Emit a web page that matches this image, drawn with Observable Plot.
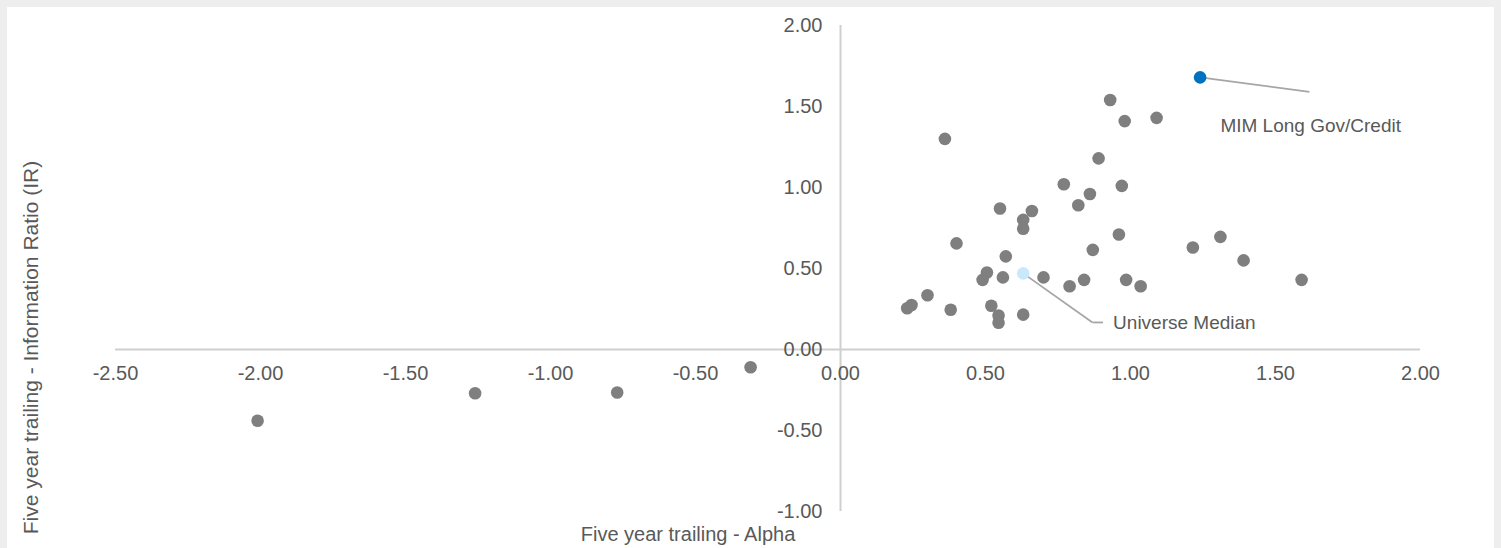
<!DOCTYPE html>
<html>
<head>
<meta charset="utf-8">
<script src="https://cdn.jsdelivr.net/npm/d3@7"></script>
<script src="https://cdn.jsdelivr.net/npm/@observablehq/plot@0.6"></script>
<style>
  html, body { margin: 0; padding: 0; background: #edeeed; }
  #wrap { position: relative; width: 1501px; height: 548px; background: #edeeed; overflow: hidden; }
  #panel { position: absolute; left: 7px; top: 7px; width: 1487px; height: 541px; background: #ffffff; }
  #chart { position: absolute; left: 0; top: 0; }
  #chart svg { background: transparent; }
</style>
</head>
<body>
<div id="wrap"><div id="panel"></div><div id="chart"></div></div>
<script>
// ---- Data ----
const xTicks = [-2.5, -2.0, -1.5, -1.0, -0.5, 0.0, 0.5, 1.0, 1.5, 2.0];
const yTicks = [-1.0, -0.5, 0.0, 0.5, 1.0, 1.5, 2.0];

// Universe of managers: five year trailing alpha and information ratio
const alpha = [0.36, 0.93, 0.98, 1.09, 0.89, 0.77, 0.97, 0.86, 0.82, 0.55,
               0.66, 0.63, 0.63, 0.96, 0.40, 0.87, 0.57, 0.505, 0.49, 0.56,
               0.70, 0.79, 0.84, 0.985, 1.035, 0.30, 0.23, 0.245, 0.38, 0.52,
               0.545, 0.545, 0.63, 1.215, 1.31, 1.39, 1.59, -2.01, -1.26, -0.77,
               -0.31];
const ir    = [1.30, 1.54, 1.41, 1.43, 1.18, 1.02, 1.01, 0.96, 0.89, 0.87,
               0.855, 0.80, 0.745, 0.71, 0.655, 0.615, 0.575, 0.475, 0.43, 0.445,
               0.445, 0.39, 0.43, 0.43, 0.39, 0.335, 0.255, 0.275, 0.245, 0.27,
               0.21, 0.165, 0.215, 0.63, 0.695, 0.55, 0.43, -0.44, -0.27, -0.265,
               -0.11];

// Highlighted points
const highlightNames = ["MIM Long Gov/Credit", "Universe Median"];
const highlightAlpha = [1.24, 0.63];
const highlightIR    = [1.68, 0.47];
// label anchor (data units) and leader line elbows
const labelAlpha = [1.31, 0.94];
const labelIR    = [1.383, 0.165];
const leaderPathAlpha = [[1.24, 1.617], [0.63, 0.869, 0.905]];
const leaderPathIR    = [[1.68, 1.59], [0.47, 0.167, 0.167]];

// ---- Build tables ----
const universe = alpha.map((a, i) => ({alpha: a, ir: ir[i]}));
const highlights = highlightNames.map((n, i) => ({
  name: n, alpha: highlightAlpha[i], ir: highlightIR[i],
  lx: labelAlpha[i], ly: labelIR[i]
}));
const leaders = [];
leaderPathAlpha.forEach((xs, k) => {
  for (let j = 0; j < xs.length - 1; j++) {
    leaders.push({x1: xs[j], y1: leaderPathIR[k][j], x2: xs[j + 1], y2: leaderPathIR[k][j + 1]});
  }
});

const xMin = d3.min(xTicks), xMax = d3.max(xTicks);
const yMin = d3.min(yTicks), yMax = d3.max(yTicks);
const textColor = "#595959";
const axisColor = "#cfcfcf";
const font = "'Liberation Sans', Arial, sans-serif";

const chart = Plot.plot({
  width: 1501,
  height: 548,
  marginLeft: 115,
  marginRight: 81,
  marginTop: 25,
  marginBottom: 37,
  style: {fontFamily: font, background: "transparent", overflow: "visible"},
  x: {domain: [xMin, xMax], axis: null},
  y: {domain: [yMin, yMax], axis: null},
  marks: [
    // crossing axes at zero
    Plot.ruleY([0], {x1: xMin, x2: xMax, stroke: axisColor, strokeWidth: 2}),
    Plot.ruleX([0], {y1: yMin, y2: yMax, stroke: axisColor, strokeWidth: 2}),
    // tick labels
    Plot.text(xTicks, {x: d => d, y: 0, dy: 24, text: d => d.toFixed(2),
      fill: textColor, fontSize: 20, textAnchor: "middle"}),
    Plot.text(yTicks, {x: 0, y: d => d, dx: -18, text: d => d.toFixed(2),
      fill: textColor, fontSize: 20, textAnchor: "end"}),
    // axis titles
    Plot.text(["Five year trailing - Alpha"], {frameAnchor: "bottom", dx: -80, dy: 29,
      fill: textColor, fontSize: 20, textAnchor: "middle"}),
    Plot.text(["Five year trailing - Information Ratio (IR)"], {frameAnchor: "left", dx: -84, dy: 79,
      rotate: -90, fill: textColor, fontSize: 21, textAnchor: "middle"}),
    // universe dots
    Plot.dot(universe, {x: "alpha", y: "ir", r: 6.3, fill: "#7f7f7f", stroke: "none"}),
    // leader lines
    Plot.link(leaders, {x1: "x1", y1: "y1", x2: "x2", y2: "y2", stroke: "#a6a6a6", strokeWidth: 1.8}),
    // highlighted dots
    Plot.dot(highlights, {x: "alpha", y: "ir", r: 6.3, stroke: "none",
      fill: d => d.name === "Universe Median" ? "#c9e8fb" : "#0070c0"}),
    // labels
    Plot.text(highlights, {x: "lx", y: "ly", text: "name", textAnchor: "start",
      fill: textColor, fontSize: 19})
  ]
});
document.getElementById("chart").appendChild(chart);
</script>
</body>
</html>
